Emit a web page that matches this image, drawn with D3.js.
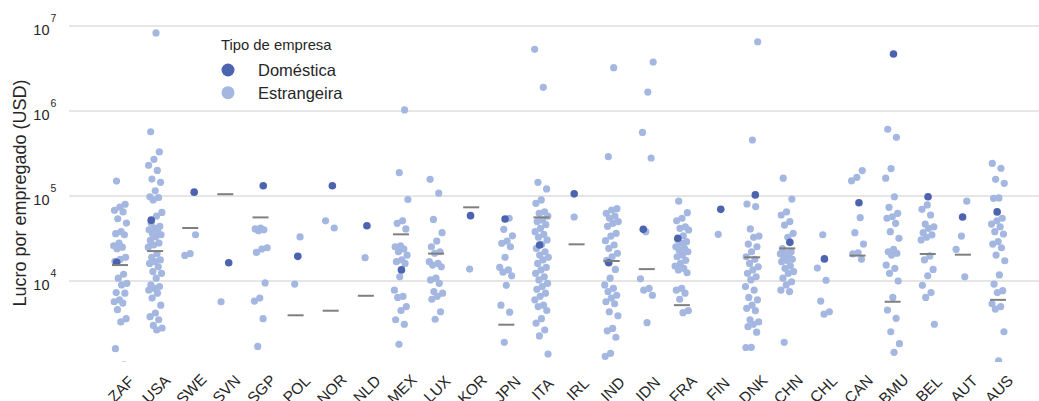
<!DOCTYPE html>
<html>
<head>
<meta charset="utf-8">
<script src="https://cdn.jsdelivr.net/npm/d3@7"></script>
<style>
  body { margin: 0; background: #fff; }
  text { font-family: "Liberation Sans", Arial, sans-serif; fill: #262626; }
</style>
</head>
<body>
<svg id="chart" width="1039" height="401"></svg>
<script>
const categories = ['ZAF', 'USA', 'SWE', 'SVN', 'SGP', 'POL', 'NOR', 'NLD', 'MEX', 'LUX', 'KOR', 'JPN', 'ITA',
  'IRL', 'IND', 'IDN', 'FRA', 'FIN', 'DNK', 'CHN', 'CHL', 'CAN', 'BMU', 'BEL', 'AUT', 'AUS'];

// one domestic firm per country (LUX has none)
const domesticValues = [16600, 52000, 111000, 16400, 132000, 19500, 132000, 44700, 13500, null, 58700, 53600, 26500,
  106000, 16400, 40500, 31800, 69700, 103000, 28500, 18200, 83400, 4690000, 98000, 56600, 65000];

const foreignValues = [
  // ZAF
  [150000, 80000, 74000, 68000, 65000, 54000, 48000, 38000, 36000, 35000, 28000, 26000, 25000, 24000, 19000, 18000,
    17000, 12000, 10800, 9400, 9000, 7300, 7200, 6000, 5700, 5500, 4600, 3600, 3300, 1600, 1030],
  // USA
  [8300000, 570000, 330000, 270000, 230000, 200000, 158000, 145000, 115000, 98000, 96000, 90000, 64000, 58000, 48000,
    44000, 42000, 40000, 38000, 36000, 35000, 33000, 30000, 28000, 26500, 25000, 21000, 19000, 17700, 16900, 16100,
    14700, 12900, 12300, 10800, 9000, 8600, 8200, 7800, 7200, 6300, 5200, 4200, 3800, 3500, 3000, 2800, 2650],
  // SWE
  [35000, 21000, 20000],
  // SVN
  [5700],
  // SGP
  [42000, 41000, 40000, 39000, 24600, 23800, 21700, 9500, 6300, 5800, 3600, 1700],
  // POL
  [33000, 9200],
  // NOR
  [51000, 42000],
  // NLD
  [18800],
  // MEX
  [1030000, 188000, 91000, 51000, 47700, 41000, 26000, 25300, 23800, 22100, 20200, 17700, 16900, 16100, 11200, 7800,
    6600, 6400, 5000, 4500, 3500, 3100, 1800],
  // LUX
  [157000, 108000, 53000, 37000, 29500, 25300, 22100, 21200, 16900, 16100, 15400, 14700, 10800, 10300, 9400, 7500,
    7200, 6600, 6100, 4350, 3550],
  // KOR
  [13800],
  // JPN
  [54700, 40500, 34000, 29500, 27800, 25300, 19000, 14500, 13500, 12700, 11500, 8900, 5200, 4300, 1900],
  // ITA
  [5320000, 1900000, 145000, 121000, 90000, 82000, 65000, 62500, 58000, 52200, 50000, 46000, 41700, 38000, 35400,
    32700, 30400, 27000, 24200, 22100, 20200, 19000, 17700, 16100, 14500, 13500, 12300, 11200, 10300, 9400, 8600,
    8000, 7200, 6600, 6000, 5200, 5000, 4500, 3600, 3200, 2650, 2260, 1380],
  // IRL
  [56600],
  // IND
  [3230000, 290000, 71000, 68400, 62500, 58000, 54700, 50000, 47700, 44000, 36400, 33800, 29800, 26500, 24200, 21200,
    19300, 17500, 13700, 10800, 9000, 8200, 7500, 6800, 6300, 5700, 5400, 4350, 3900, 2770, 2590, 2180, 1410, 1300],
  // IDN
  [3770000, 1670000, 560000, 280000, 38000, 10600, 8200, 7800, 6800, 3230],
  // FRA
  [87000, 63600, 54700, 51000, 43500, 41700, 39800, 34000, 30400, 29000, 27800, 25300, 24200, 23000, 22100, 20200,
    19300, 17500, 16100, 15000, 14100, 13500, 12500, 8200, 7800, 7200, 6100, 4470, 4240],
  // FIN
  [35400],
  // DNK
  [6530000, 456000, 80500, 75000, 41000, 33800, 32700, 27200, 25300, 22100, 19300, 18000, 16100, 14700, 13500, 12300,
    11200, 10300, 8600, 7800, 6400, 6000, 5200, 4770, 4470, 3500, 3300, 3100, 2900, 2500, 1660, 1650],
  // CHN
  [162000, 92000, 65000, 59800, 50000, 45500, 36400, 32700, 24000, 22100, 21500, 20800, 19800, 19300, 18000, 17500,
    16900, 15100, 14100, 12900, 12300, 10800, 9800, 9000, 7800, 7500, 1900],
  // CHL
  [35000, 14200, 10200, 5800, 4350, 4070],
  // CAN
  [199000, 166000, 151000, 55600, 37000, 27200, 21500, 20800, 18000],
  // BMU
  [610000, 490000, 210000, 162000, 98000, 73600, 62500, 57000, 54700, 47700, 38000, 31800, 23600, 22100, 21200, 20200,
    15400, 14100, 12300, 10000, 6400, 4560, 3640, 2530, 1830, 1450],
  // BEL
  [78500, 69700, 59800, 46800, 43500, 41700, 37000, 34800, 32700, 30400, 19700, 17700, 13700, 11500, 8900, 7300,
    6400, 3100],
  // AUT
  [87000, 33800, 23600, 11200],
  // AUS
  [242000, 212000, 157000, 141000, 95000, 94000, 54700, 51000, 46800, 43500, 38000, 35700, 29000, 27200, 24600, 20200,
    17300, 11800, 9200, 7700, 7300, 5400, 5000, 4680, 2530, 1150]
];

// grey reference bars (FIN and CHL have none)
const medianValues = [15400, 22500, 42000, 105000, 56000, 3950, 4470, 6700, 35400, 21000, 73600, 3060, 56000,
  27000, 17200, 13800, 5200, null, 19000, 24200, null, 19900, 5700, 20800, 20400, 6000];

const yTicks = [1e4, 1e5, 1e6, 1e7];
const legendItems = ['Doméstica', 'Estrangeira'];

const colorDomestic = '#4c63b0',
    colorForeign = '#a4b7e1';

const svg = d3.select('#chart');
const margin = {left: 69, right: 1039, top: 0, bottom: 362};

const x = d3.scalePoint().domain(categories).range([120, 998]);
const y = d3.scaleLog().domain([1e3, 1e7]).range([366, 26]);

// jitter: deterministic spread inside each strip
function jitter(i, c) {
  const f = (i * 0.6180339 + c * 0.3137 + 0.25) % 1;
  return (f - 0.5) * 14;
}

svg.append('defs').append('clipPath')
    .attr('id', 'plot-clip')
    .append('rect')
    .attr('x', margin.left)
    .attr('y', margin.top)
    .attr('width', margin.right - margin.left)
    .attr('height', margin.bottom - margin.top);

// grid
svg.append('g')
    .selectAll('line')
    .data(yTicks)
    .join('line')
    .attr('x1', margin.left)
    .attr('x2', margin.right)
    .attr('y1', d => y(d))
    .attr('y2', d => y(d))
    .attr('stroke', '#cccccc')
    .attr('stroke-width', 1);

// y tick labels 10^n
const yLabels = svg.append('g');
yTicks.forEach(t => {
  const yy = y(t);
  yLabels.append('text')
      .attr('x', 49.5)
      .attr('y', yy + 9)
      .attr('text-anchor', 'end')
      .style('font-size', '14.5px')
      .text('10');
  yLabels.append('text')
      .attr('x', 50.5)
      .attr('y', yy - 4)
      .style('font-size', '10.5px')
      .text(Math.round(Math.log10(t)));
});

svg.append('text')
    .attr('transform', 'translate(26,193) rotate(-90)')
    .attr('text-anchor', 'middle')
    .style('font-size', '18px')
    .text('Lucro por empregado (USD)');

// x tick labels (rotated, bottom clipped by the page as in the original)
svg.append('g')
    .selectAll('text')
    .data(categories)
    .join('text')
    .attr('transform', d => 'translate(' + (x(d) + 1) + ',389) rotate(-45)')
    .attr('text-anchor', 'middle')
    .attr('dominant-baseline', 'central')
    .style('font-size', '15.5px')
    .text(d => d);

const plot = svg.append('g').attr('clip-path', 'url(#plot-clip)');

const foreignPoints = [];
foreignValues.forEach((vals, c) => {
  vals.forEach((v, i) => foreignPoints.push({cat: categories[c], value: v, dx: jitter(i, c)}));
});

plot.append('g')
    .selectAll('circle')
    .data(foreignPoints)
    .join('circle')
    .attr('cx', d => x(d.cat) + d.dx)
    .attr('cy', d => y(d.value))
    .attr('r', 3.6)
    .attr('fill', colorForeign);

const domesticPoints = domesticValues
    .map((v, c) => ({cat: categories[c], value: v, dx: jitter(c + 3, c) * 0.6}))
    .filter(d => d.value != null);

plot.append('g')
    .selectAll('circle')
    .data(domesticPoints)
    .join('circle')
    .attr('cx', d => x(d.cat) + d.dx)
    .attr('cy', d => y(d.value))
    .attr('r', 3.8)
    .attr('fill', colorDomestic);

const medians = medianValues
    .map((v, c) => ({cat: categories[c], value: v}))
    .filter(d => d.value != null);

plot.append('g')
    .selectAll('line')
    .data(medians)
    .join('line')
    .attr('x1', d => x(d.cat) - 8)
    .attr('x2', d => x(d.cat) + 8)
    .attr('y1', d => y(d.value))
    .attr('y2', d => y(d.value))
    .attr('stroke', '#7f7f7f')
    .attr('stroke-width', 2);

// legend
const legend = svg.append('g');
legend.append('text')
    .attr('x', 221)
    .attr('y', 50)
    .style('font-size', '14.8px')
    .text('Tipo de empresa');

legendItems.forEach((name, i) => {
  const ly = 70 + i * 22.7;
  legend.append('circle')
      .attr('cx', 228)
      .attr('cy', ly)
      .attr('r', 6.5)
      .attr('fill', i === 0 ? colorDomestic : colorForeign);
  legend.append('text')
      .attr('x', 258)
      .attr('y', ly + 5.8)
      .style('font-size', '16.5px')
      .text(name);
});
</script>
</body>
</html>
